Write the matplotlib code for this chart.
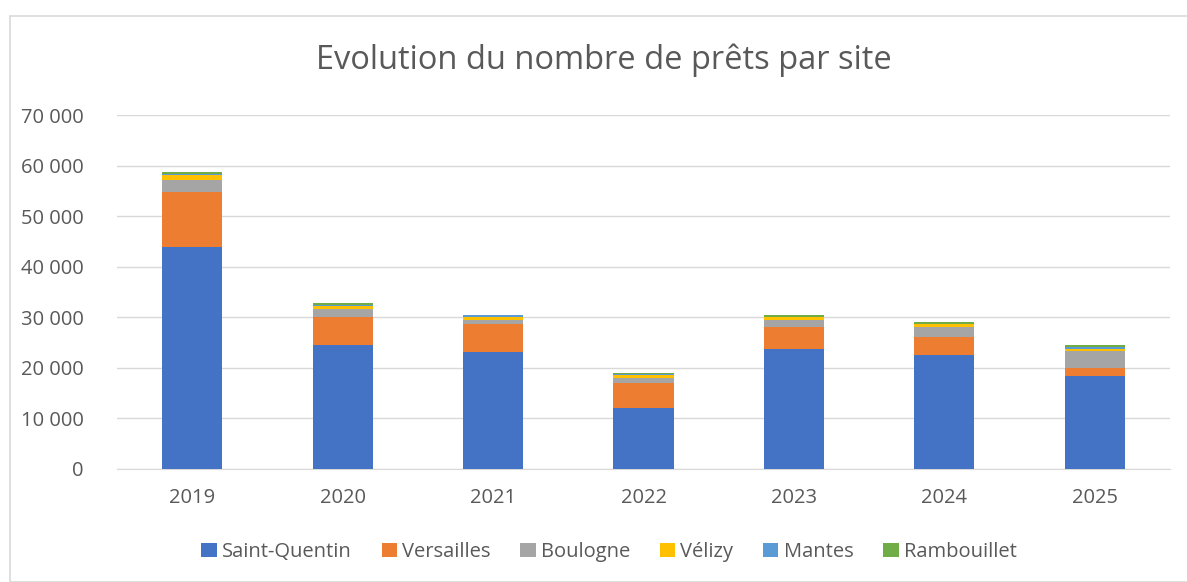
import matplotlib
matplotlib.use("Agg")
import matplotlib.pyplot as plt
from matplotlib.patches import Rectangle
from matplotlib.ticker import FuncFormatter
import numpy as np

years = ["2019", "2020", "2021", "2022", "2023", "2024", "2025"]
saint_quentin = [43800, 24450, 23200, 12100, 23650, 22450, 18450]
versailles = [11050, 5600, 5450, 5000, 4350, 3750, 1600]
boulogne = [2200, 1650, 800, 900, 1450, 1900, 3350]
velizy = [1000, 600, 550, 500, 550, 600, 400]
mantes = [300, 200, 400, 300, 100, 50, 400]
rambouillet = [450, 300, 100, 200, 300, 300, 350]

series = [
    ("Saint-Quentin", saint_quentin, "#4472C4"),
    ("Versailles", versailles, "#ED7D31"),
    ("Boulogne", boulogne, "#A5A5A5"),
    ("Vélizy", velizy, "#FFC000"),
    ("Mantes", mantes, "#5B9BD5"),
    ("Rambouillet", rambouillet, "#70AD47"),
]

plt.rcParams['font.family'] = ['Open Sans', 'DejaVu Sans']
fig = plt.figure(figsize=(11.87, 5.82), dpi=100)
ax = fig.add_axes([117/1187, 1-469/582, (1170-117)/1187, (469-115)/582])

x = np.arange(len(years))
bottom = np.zeros(len(years))
for name, vals, col in series:
    ax.bar(x, vals, 0.4, bottom=bottom, color=col, label=name, zorder=3)
    bottom += np.array(vals)

ax.set_xlim(-0.5, len(years) - 0.5)
ax.set_ylim(0, 70000)
ax.set_yticks(range(0, 70001, 10000))
ax.yaxis.set_major_formatter(FuncFormatter(lambda v, p: f"{int(v):,}".replace(",", " ")))
ax.set_xticks(x)
ax.set_xticklabels(years)
ax.grid(axis='y', color='#d9d9d9', linewidth=1, zorder=0)
for s in ['top', 'right', 'left']:
    ax.spines[s].set_visible(False)
ax.spines['bottom'].set_color('#d9d9d9')
ax.tick_params(axis='both', length=0, labelsize=14.5, colors='#595959')
ax.tick_params(axis='y', pad=24)
ax.tick_params(axis='x', pad=14)

fig.text(604/1187, 1-60/582, "Evolution du nombre de prêts par site", ha='center', va='center',
         fontsize=23.5, color='#595959')

leg = fig.legend(loc='center', bbox_to_anchor=(609/1187, 1-552/582), ncol=6, frameon=False,
                 fontsize=14.5, handlelength=0.75, handleheight=0.75, handletextpad=0.25, columnspacing=1.5)
for t in leg.get_texts():
    t.set_color('#595959')

fig.patches.append(Rectangle((10/1187, 0), 1.2, 1-16/582, transform=fig.transFigure,
                             fill=False, edgecolor='#d9d9d9', linewidth=1.2))

fig.savefig("out.png", dpi=100)
